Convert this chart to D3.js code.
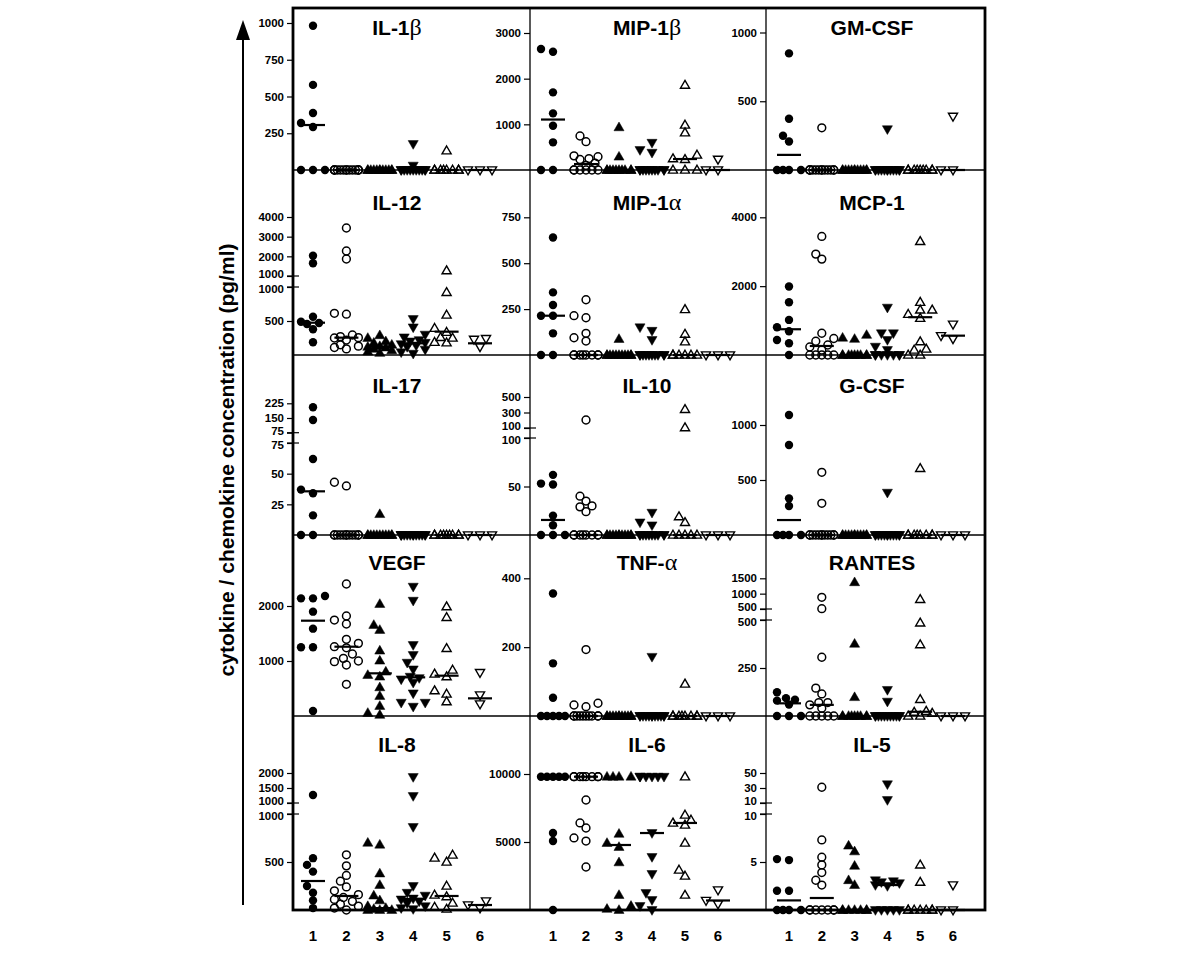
<!DOCTYPE html>
<html><head><meta charset="utf-8">
<script src="https://cdn.jsdelivr.net/npm/d3@7"></script>
<style>
body{margin:0;background:#fff}
svg{display:block}
text{font-family:Arial,"Liberation Sans",sans-serif;font-weight:bold;fill:#000}
</style>
</head><body>
<svg id="chart" width="1200" height="956"></svg>
<script>
// ---------------- DATA ----------------
const groups = [1, 2, 3, 4, 5, 6];
const groupSymbols = ["circleFilled", "circleOpen", "triUpFilled", "triDownFilled", "triUpOpen", "triDownOpen"];
const yTitle = "cytokine / chemokine concentration (pg/ml)";

const IL1b = [[981,579,388,320,293,0,0,0],[0,0,0,0,0,0,0,0,0,0,0,0,0,0],[0,0,0,0,0,0,0,0,0,0,0,0],[177,30,0,0,0,0,0,0,0,0,0,0,0],[131,0,0,0,0,0,0,0,0],[0,0,0]];
const IL1b_med = [306,0,0,0,0,0];
const MIP1b = [[2648,2589,1700,1240,970,606,0,0],[744,620,310,290,250,230,150,100,0,0,0,0,0,0],[934,291,0,0,0,0,0,0,0,0,0,0],[597,438,379,0,0,0,0,0,0,0,0,0,0],[1860,985,816,328,250,234,0,0,0],[234,0,0]];
const MIP1b_med = [1105,130,0,0,240,0];
const GMCSF = [[848,373,249,207,0,0,0,0],[307,0,0,0,0,0,0,0,0,0,0,0,0,0],[0,0,0,0,0,0,0,0,0,0,0,0],[297,0,0,0,0,0,0,0,0,0,0,0,0],[0,0,0,0,0,0,0,0,0],[390,0,0]];
const GMCSF_med = [110,0,0,0,0,0];

const IL12 = [[2032,1646,563,490,470,456,378,187],[3440,2271,1864,613,600,294,270,255,250,220,150,130,110,90],[290,250,200,180,150,130,120,110,90,70,50,30],[529,407,300,260,220,200,180,160,140,120,80,40,20],[1270,922,588,393,334,260,250,187,180],[240,230,120]];
const IL12_med = [475,255,122,172,343,172];
const MIP1a = [[640,341,272,214,214,118,0,0],[301,214,203,118,94,76,0,0,0,0,0,0,0,0],[87,0,0,0,0,0,0,0,0,0,0,0],[151,132,82,0,0,0,0,0,0,0,0,0,0],[248,114,72,0,0,0,0,0,0],[0,0,0]];
const MIP1a_med = [214,0,0,0,0,0];
const MCP1 = [[1989,1533,1019,806,690,437,340,0],[3444,2931,2786,632,480,400,290,233,145,0,0,0,0,0],[582,500,466,0,0,0,0,0,0,0,0,0],[1377,632,632,437,243,146,0,0,0,0,0,0,0],[3299,1533,1310,1310,1184,1068,388,175,145,0,0],[894,560,470]];
const MCP1_med = [748,262,0,50,1098,562];

const IL17 = [[205,140,62,37,34,16,0,0],[43,40,0,0,0,0,0,0,0,0,0,0,0,0],[17,0,0,0,0,0,0,0,0,0,0,0],[0,0,0,0,0,0,0,0,0,0,0,0,0],[0,0,0,0,0,0,0,0,0],[0,0,0]];
const IL17_med = [35.6,0,0,0,0,0];
const IL10 = [[62,53,52,20,10,0,0,0],[203,40,35,30,29,24,0,0,0,0,0,0,0,0],[0,0,0,0,0,0,0,0,0,0,0,0],[23,13,10,0,0,0,0,0,0,0,0,0,0],[341,105,19,13,0,0,0,0,0],[0,0,0]];
const IL10_med = [15.5,0,0,0,0,0];
const GCSF = [[1091,818,333,264,0,0,0,0],[570,288,0,0,0,0,0,0,0,0,0,0,0,0],[0,0,0,0,0,0,0,0,0,0,0,0],[385,0,0,0,0,0,0,0,0,0,0,0,0],[606,0,0,0,0,0,0,0,0],[0,0,0]];
const GCSF_med = [136,0,0,0,0,0];

const VEGF = [[2182,2139,2139,1897,1588,1249,1249,91],[2400,1818,1745,1673,1394,1321,1260,1240,1127,1048,1000,988,927,576],[2036,1655,1564,1188,1006,806,745,715,521,364,182,55,20],[2352,2097,1291,1109,970,848,715,690,667,606,412,242,242,170],[1988,1794,1230,836,764,715,461,400,261],[788,382,218]];
const VEGF_med = [1733,1260,776,703,733,321];
const TNFa = [[356,153,53,0,0,0,0,0],[193,37,32,27,0,0,0,0,0,0,0,0,0,0],[0,0,0,0,0,0,0,0,0,0,0,0],[172,0,0,0,0,0,0,0,0,0,0,0,0],[93,0,0,0,0,0,0,0,0],[0,0,0]];
const TNFa_med = [0,0,0,0,0,0];
const RANTES = [[124,93,85,80,60,0,0,0],[881,510,306,145,115,70,70,58,40,0,0,0,0,0],[1370,376,98,0,0,0,0,0,0,0,0,0],[136,75,0,0,0,0,0,0,0,0,0,0,0],[816,485,372,87,25,20,15,0,0],[0,0,0]];
const RANTES_med = [66,58,0,0,22,0];

const IL8 = [[1267,540,470,400,250,180,100,20],[575,460,360,300,240,200,160,130,110,90,60,40,20,0],[700,680,380,260,150,100,40,20,10,0,0,0],[1867,1233,865,250,180,150,120,110,90,70,40,20,10],[573,542,500,250,156,140,73,30,10],[94,52,21]];
const IL8_med = [302,146,20,115,146,52];
const IL6 = [[9800,9800,9800,9800,9800,5660,5070,0],[9800,9800,9800,9800,9800,9800,9800,9800,8088,6400,6030,5300,5070,3160],[9800,9800,9800,9800,5600,4926,4632,3500,1100,300,80,0],[9800,9800,9800,9800,9800,9800,5660,3900,2650,1250,735,294,0],[9800,6985,6618,6400,6250,4926,2941,2500,1100],[1470,700,441]];
const IL6_med = [9800,9800,4780,5660,6400,700];
const IL5 = [[5.3,5.2,2,2,0,0,0,0],[31,7.3,5.5,4.7,3.9,3.1,2.6,0,0,0,0,0,0,0],[6.7,6.1,4.6,3.1,2.6,0,0,0,0,0,0,0],[35,14,3.1,3.0,2.9,2.8,2.6,2.5,0,0,0,0,0],[4.7,2.9,0,0,0,0,0,0,0],[2.6,0,0]];
const IL5_med = [1.0,1.25,0,2.6,0,0];

// panel titles: [latin part, greek part]
const panels = [
  {title:["IL-1","β"], data:IL1b,  med:IL1b_med,  row:0,col:0, segs:[{d:[0,1000],h:[0,147],t:[250,500,750,1000]}]},
  {title:["MIP-1","β"],data:MIP1b, med:MIP1b_med, row:0,col:1, segs:[{d:[0,3000],h:[0,137],t:[1000,2000,3000]}]},
  {title:["GM-CSF",""],data:GMCSF, med:GMCSF_med, row:0,col:2, segs:[{d:[0,1000],h:[0,137.5],t:[500,1000]}]},
  {title:["IL-12",""], data:IL12,  med:IL12_med,  row:1,col:0, segs:[{d:[0,1000],h:[0,68],t:[500,1000]},{d:[1000,4000],h:[79,138],t:[1000,2000,3000,4000]}]},
  {title:["MIP-1","α"],data:MIP1a, med:MIP1a_med, row:1,col:1, segs:[{d:[0,750],h:[0,137.7],t:[250,500,750]}]},
  {title:["MCP-1",""], data:MCP1,  med:MCP1_med,  row:1,col:2, segs:[{d:[0,4000],h:[0,137.7],t:[2000,4000]}]},
  {title:["IL-17",""], data:IL17,  med:IL17_med,  row:2,col:0, segs:[{d:[0,75],h:[0,92],t:[25,50,75]},{d:[75,225],h:[102.3,131.7],t:[75,150,225]}]},
  {title:["IL-10",""], data:IL10,  med:IL10_med,  row:2,col:1, segs:[{d:[0,100],h:[0,97],t:[50,100]},{d:[100,500],h:[107,138],t:[100,300,500]}]},
  {title:["G-CSF",""], data:GCSF,  med:GCSF_med,  row:2,col:2, segs:[{d:[0,1000],h:[0,110],t:[500,1000]}]},
  {title:["VEGF",""],  data:VEGF,  med:VEGF_med,  row:3,col:0, segs:[{d:[0,2000],h:[0,110],t:[1000,2000]}]},
  {title:["TNF-","α"], data:TNFa,  med:TNFa_med,  row:3,col:1, segs:[{d:[0,400],h:[0,137.7],t:[200,400]}]},
  {title:["RANTES",""],data:RANTES,med:RANTES_med,row:3,col:2, segs:[{d:[0,500],h:[0,96],t:[250,500]},{d:[500,1500],h:[107,137.7],t:[500,1000,1500]}]},
  {title:["IL-8",""],  data:IL8,   med:IL8_med,   row:4,col:0, segs:[{d:[0,1000],h:[0,96],t:[500,1000]},{d:[1000,2000],h:[107,137],t:[1000,1500,2000]}]},
  {title:["IL-6",""],  data:IL6,   med:IL6_med,   row:4,col:1, segs:[{d:[0,10000],h:[0,136],t:[5000,10000]}]},
  {title:["IL-5",""],  data:IL5,   med:IL5_med,   row:4,col:2, segs:[{d:[0,10],h:[0,96],t:[5,10]},{d:[10,50],h:[107,137],t:[10,30,50]}]}
];

// ---------------- LAYOUT ----------------
const frame = {left:293, right:985, top:8, bottom:910};
const colAxisX = [293, 530, 766];
const colGroupRange = [[313,480],[553,718],[789,953]];
const rowBase = [170, 355, 535, 716, 910];
const titleY = [35, 210, 393, 570, 752];
const titleX = [397, 647, 872];

const svg = d3.select("#chart");

panels.forEach(p => {
  const base = rowBase[p.row];
  const ax = colAxisX[p.col];
  const x = d3.scalePoint().domain(groups).range(colGroupRange[p.col]);
  const segScales = p.segs.map(s => d3.scaleLinear().domain(s.d).range([base - s.h[0], base - s.h[1]]));
  const yOf = v => {
    if (segScales.length > 1 && v > p.segs[0].d[1]) return segScales[1](v);
    return segScales[0](v);
  };
  const g = svg.append("g");
  const broken = p.segs.length > 1;

  // axes
  segScales.forEach((sc, i) => {
    const a = g.append("g").attr("transform", `translate(${ax},0)`)
      .call(d3.axisLeft(sc).tickValues(p.segs[i].t).tickSize(6).tickPadding(3).tickFormat(d3.format("d")));
    a.select(".domain").remove();
    a.selectAll("line").attr("stroke", "#000").attr("stroke-width", 1.2);
    a.selectAll("text").style("font-size", "11.5px").style("font-weight", "bold")
      .style("font-family", "Arial, 'Liberation Sans', sans-serif").attr("fill", "#000");
    if (broken) {
      // keep the two labels at the break legible
      const edge = i === 0 ? p.segs[0].d[1] : p.segs[1].d[0];
      a.selectAll(".tick").filter(d => d === edge).select("text")
        .attr("dy", i === 0 ? "0.52em" : "0.12em");
    }
  });
  if (broken) {
    [segScales[0](p.segs[0].d[1]), segScales[1](p.segs[1].d[0])].forEach(yy => {
      g.append("line").attr("x1", ax - 6).attr("x2", ax + 6).attr("y1", yy).attr("y2", yy)
        .attr("stroke", "#000").attr("stroke-width", 1.2);
    });
  }

  // title
  const t = g.append("text").attr("x", titleX[p.col]).attr("y", titleY[p.row]).attr("text-anchor", "middle")
    .style("font-size", "21px");
  t.append("tspan").text(p.title[0]);
  if (p.title[1]) t.append("tspan").style("font-family", "'Liberation Serif','DejaVu Serif',serif")
    .style("font-weight", "normal").style("font-size", "24px").text(p.title[1]);

  // median lines
  p.med.forEach((m, gi) => {
    const cx = x(groups[gi]), yy = yOf(m);
    g.append("line").attr("x1", cx - 12).attr("x2", cx + 12).attr("y1", yy).attr("y2", yy)
      .attr("stroke", "#000").attr("stroke-width", 2.2);
  });

  // points with a small swarm offset so overlapping markers separate
  const offs = [0, -6, 6, -12, 12, -3, 3, -9, 9];
  p.data.forEach((vals, gi) => {
    const pts = vals.map(v => ({v, y: yOf(v)})).sort((a, b) => b.y - a.y);
    const placed = [];
    pts.forEach(pt => {
      let best = 0, bestC = Infinity;
      for (const o of offs) {
        let c = 0;
        for (const q of placed) {
          const d = Math.hypot(o - q.dx, pt.y - q.y);
          if (d < 7.5) c += 7.5 - d;
        }
        if (c < bestC - 1e-9) { bestC = c; best = o; }
        if (c === 0) break;
      }
      pt.dx = best; placed.push(pt);
    });
    const sym = groupSymbols[gi];
    const cx = x(groups[gi]);
    pts.forEach(pt => {
      const px = cx + pt.dx, py = pt.y;
      if (sym.startsWith("circle")) {
        g.append("circle").attr("cx", px).attr("cy", py).attr("r", sym === "circleFilled" ? 4.2 : 3.9)
          .attr("fill", sym === "circleFilled" ? "#000" : "none")
          .attr("stroke", "#000").attr("stroke-width", sym === "circleFilled" ? 0 : 1.5);
      } else {
        const filled = sym.endsWith("Filled");
        const down = sym.startsWith("triDown");
        g.append("path").attr("d", d3.symbol(d3.symbolTriangle, filled ? 44 : 36)())
          .attr("transform", `translate(${px},${py + (down ? -0.5 : 0.5)}) rotate(${down ? 180 : 0})`)
          .attr("fill", filled ? "#000" : "none").attr("stroke", "#000").attr("stroke-width", filled ? 0.5 : 1.4);
      }
    });
  });
});

// row baselines, column dividers, frame
const lines = svg.insert("g", ":first-child");
rowBase.slice(0, 4).forEach(yy => {
  lines.append("line").attr("x1", frame.left).attr("x2", frame.right).attr("y1", yy).attr("y2", yy)
    .attr("stroke", "#000").attr("stroke-width", 1.3);
});
colAxisX.slice(1).forEach(xx => {
  lines.append("line").attr("x1", xx).attr("x2", xx).attr("y1", frame.top).attr("y2", frame.bottom)
    .attr("stroke", "#000").attr("stroke-width", 1.3);
});
svg.append("rect").attr("x", frame.left).attr("y", frame.top)
  .attr("width", frame.right - frame.left).attr("height", frame.bottom - frame.top)
  .attr("fill", "none").attr("stroke", "#000").attr("stroke-width", 2.8);

// bottom group labels
colGroupRange.forEach(r => {
  const x = d3.scalePoint().domain(groups).range(r);
  groups.forEach(gv => {
    svg.append("text").attr("x", x(gv)).attr("y", 941).attr("text-anchor", "middle")
      .style("font-size", "15px").text(gv);
  });
});

// y title and arrow
svg.append("line").attr("x1", 243).attr("x2", 243).attr("y1", 905).attr("y2", 36)
  .attr("stroke", "#000").attr("stroke-width", 2);
svg.append("path").attr("d", "M236,40 L250,40 L243,20 Z").attr("fill", "#000");
svg.append("text").attr("transform", "translate(234,460) rotate(-90)").attr("text-anchor", "middle")
  .style("font-size", "21px").text(yTitle);
</script>
</body></html>
